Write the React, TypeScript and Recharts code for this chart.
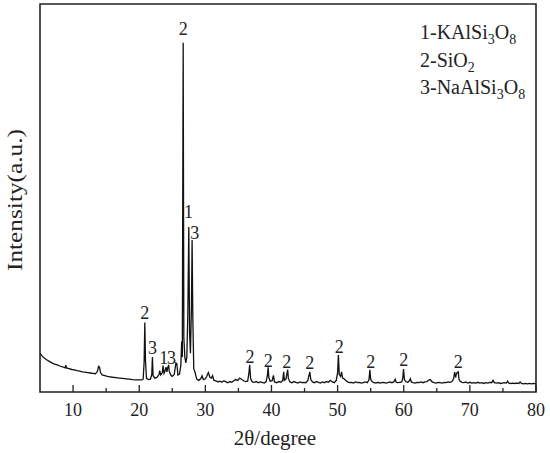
import { ComposedChart, Line, Scatter, XAxis, YAxis, ReferenceArea } from 'recharts';

// 2θ (degree), intensity (a.u., 0–100 scale)
const pattern: [number, number][] = [
  [5.0, 10.0], [5.3, 9.3], [5.6, 8.8], [6.0, 8.3], [6.4, 7.9], [6.8, 7.5], [7.2, 7.2], [7.6, 7.0],
  [8.0, 6.7], [8.4, 6.5], [8.8, 6.2], [8.9, 6.9], [9.0, 6.2], [9.4, 6.0], [9.8, 5.8], [10.2, 5.7],
  [10.6, 5.5], [11.0, 5.4], [11.4, 5.2], [11.8, 5.1], [12.2, 5.0], [12.6, 4.9], [13.0, 4.8], [13.4, 4.7],
  [13.7, 5.4], [13.85, 6.6], [14.0, 6.4], [14.15, 5.0], [14.4, 4.4], [14.8, 4.2], [15.2, 4.0], [15.6, 3.9],
  [16.0, 3.8], [16.5, 3.7], [17.0, 3.6], [17.5, 3.5], [18.0, 3.4], [18.5, 3.3], [19.0, 3.2], [19.5, 3.15],
  [20.0, 3.1], [20.4, 3.1], [20.6, 3.3], [20.75, 8.0], [20.85, 17.9], [20.95, 8.0], [21.1, 3.5], [21.4, 3.2],
  [21.7, 3.3], [21.9, 4.5], [22.0, 9.0], [22.1, 4.2], [22.4, 3.5], [22.7, 3.8], [23.0, 4.5], [23.1, 5.5],
  [23.25, 4.4], [23.5, 5.0], [23.6, 6.8], [23.75, 4.8], [23.9, 5.4], [24.05, 6.4], [24.2, 5.2], [24.3, 6.2],
  [24.45, 7.0], [24.55, 5.3], [24.8, 4.3], [25.0, 4.0], [25.3, 4.5], [25.55, 7.5], [25.7, 7.2], [25.85, 4.4],
  [26.1, 4.6], [26.3, 7.0], [26.42, 13.0], [26.52, 9.0], [26.65, 90.0], [26.75, 14.0], [26.9, 9.0], [27.05, 7.5],
  [27.2, 9.0], [27.35, 20.0], [27.5, 42.5], [27.62, 15.0], [27.75, 10.0], [27.9, 22.0], [28.0, 39.2], [28.1, 20.0],
  [28.25, 6.0], [28.45, 5.0], [28.7, 3.3], [29.0, 3.0], [29.3, 3.4], [29.5, 4.2], [29.7, 3.2], [30.0, 3.4],
  [30.2, 4.0], [30.45, 5.0], [30.7, 3.8], [30.9, 3.6], [31.1, 4.2], [31.3, 3.0], [31.6, 2.9], [31.9, 2.6],
  [32.2, 2.8], [32.5, 2.5], [32.8, 2.9], [33.1, 2.6], [33.4, 2.4], [33.7, 2.7], [34.0, 2.5], [34.3, 2.9],
  [34.6, 3.2], [34.9, 3.0], [35.2, 3.6], [35.5, 3.2], [35.8, 2.9], [36.1, 2.7], [36.4, 2.8], [36.6, 5.0],
  [36.7, 7.0], [36.85, 3.4], [37.1, 2.6], [37.4, 2.5], [37.7, 2.7], [38.0, 2.4], [38.3, 2.6], [38.6, 2.5],
  [38.9, 2.3], [39.2, 2.7], [39.4, 4.5], [39.5, 6.4], [39.6, 3.8], [39.8, 2.8], [40.1, 2.9], [40.3, 4.3],
  [40.45, 2.6], [40.8, 2.4], [41.1, 2.7], [41.4, 2.5], [41.7, 3.0], [41.85, 5.2], [41.95, 3.0], [42.2, 3.4],
  [42.45, 5.8], [42.55, 3.5], [42.8, 2.6], [43.1, 2.4], [43.4, 2.7], [43.7, 2.5], [44.0, 2.3], [44.3, 2.6],
  [44.6, 2.4], [44.9, 2.5], [45.2, 2.4], [45.5, 3.0], [45.8, 5.2], [45.95, 3.2], [46.2, 2.6], [46.5, 2.4],
  [46.8, 2.7], [47.1, 2.5], [47.4, 2.3], [47.7, 2.6], [48.0, 2.4], [48.3, 2.7], [48.6, 2.5], [48.9, 3.0],
  [49.2, 2.6], [49.5, 2.4], [49.8, 3.0], [50.0, 5.0], [50.12, 9.5], [50.25, 4.5], [50.45, 4.0], [50.6, 5.2],
  [50.75, 3.6], [51.0, 3.4], [51.2, 3.0], [51.5, 2.6], [51.8, 2.4], [52.1, 2.5], [52.4, 2.3], [52.7, 2.6],
  [53.0, 2.4], [53.3, 2.5], [53.6, 2.3], [53.9, 2.4], [54.2, 2.6], [54.5, 2.4], [54.75, 3.2], [54.88, 5.7],
  [55.0, 3.3], [55.2, 2.7], [55.5, 2.4], [55.8, 2.3], [56.1, 2.5], [56.4, 2.3], [56.7, 2.4], [57.0, 2.5],
  [57.3, 2.3], [57.6, 2.4], [57.9, 2.6], [58.2, 2.4], [58.5, 2.6], [58.7, 3.3], [58.85, 2.5], [59.1, 2.4],
  [59.4, 2.5], [59.7, 2.6], [59.85, 3.5], [59.97, 5.9], [60.1, 3.2], [60.3, 2.7], [60.6, 2.5], [60.85, 2.9],
  [61.0, 3.4], [61.15, 2.6], [61.4, 2.4], [61.7, 2.3], [62.0, 2.5], [62.3, 2.4], [62.6, 2.6], [62.9, 2.4],
  [63.2, 2.6], [63.5, 2.7], [63.8, 3.1], [64.0, 3.2], [64.3, 2.6], [64.6, 2.4], [64.9, 2.3], [65.2, 2.5],
  [65.5, 2.4], [65.8, 2.3], [66.1, 2.5], [66.4, 2.4], [66.7, 2.6], [67.0, 2.5], [67.3, 2.7], [67.55, 3.4],
  [67.7, 5.1], [67.85, 3.8], [67.95, 4.6], [68.1, 5.1], [68.25, 5.2], [68.35, 3.3], [68.5, 2.8], [68.8, 2.5],
  [69.1, 2.4], [69.4, 2.6], [69.7, 2.3], [70.0, 2.5], [70.3, 2.3], [70.6, 2.4], [70.9, 2.3], [71.2, 2.5],
  [71.5, 2.3], [71.8, 2.4], [72.1, 2.2], [72.4, 2.4], [72.7, 2.3], [73.0, 2.5], [73.3, 2.4], [73.5, 3.0],
  [73.7, 2.4], [74.0, 2.3], [74.3, 2.4], [74.6, 2.2], [74.9, 2.3], [75.2, 2.4], [75.5, 2.3], [75.7, 2.8],
  [75.9, 2.3], [76.2, 2.2], [76.5, 2.3], [76.8, 2.2], [77.1, 2.3], [77.4, 2.2], [77.6, 2.6], [77.8, 2.2],
  [78.1, 2.1], [78.4, 2.2], [78.7, 2.1], [79.0, 2.2], [79.3, 2.1], [79.6, 2.2], [80.0, 2.1],
];

// phase markers above the peaks: [2θ, height, phase number]
const peakMarks: [number, number, string][] = [
  [20.85, 20.4, '2'], [22.0, 11.3, '3'], [23.7, 8.8, '1'], [24.9, 8.8, '3'],
  [26.65, 93.5, '2'], [27.45, 46.5, '1'], [28.4, 41.0, '3'],
  [36.75, 9.1, '2'], [39.5, 8.1, '2'], [42.3, 7.8, '2'], [45.8, 7.4, '2'],
  [50.25, 11.7, '2'], [55.0, 7.65, '2'], [60.0, 8.25, '2'], [68.25, 7.65, '2'],
];

const xTicks = [10, 15, 20, 25, 30, 35, 40, 45, 50, 55, 60, 65, 70, 75, 80];

const lineData = pattern.map(([x, y]) => ({ x, y }));
const markData = peakMarks.map(([x, y, label]) => ({ x, y, label }));

const serif = "'Liberation Serif', Tinos, 'Times New Roman', 'DejaVu Serif', serif";
const ink = '#222';
const textStyle = { fontFamily: serif };

function BottomTick(props: any) {
  const { x, y, payload } = props;
  const major = payload.value % 10 === 0;
  return (
    <g>
      <line x1={x} x2={x} y1={y} y2={y - (major ? 7 : 4)} stroke={ink} strokeWidth={1.3} />
      {major && (
        <text x={x} y={y + 18} textAnchor="middle" dominantBaseline="central"
          style={textStyle} fontSize={18} fill={ink}>
          {payload.value}
        </text>
      )}
    </g>
  );
}

function MarkText(props: any) {
  const { cx, cy, payload } = props;
  return (
    <text x={cx} y={cy} textAnchor="middle" dominantBaseline="central"
      style={textStyle} fontSize={18} fill={ink}>
      {payload.label}
    </text>
  );
}

export default function App() {
  return (
    <div style={{ position: 'absolute', left: 0, top: 0, width: 550, height: 453, background: '#fff' }}>
      <ComposedChart width={550} height={453} margin={{ top: 4, right: 14, left: 40, bottom: 31 }}>
        <XAxis
          type="number"
          dataKey="x"
          domain={[5, 80]}
          ticks={xTicks}
          allowDataOverflow
          height={30}
          tickSize={0}
          tickMargin={0}
          axisLine={false}
          tick={<BottomTick />}
        />
        <YAxis type="number" dataKey="y" domain={[0, 100]} allowDataOverflow hide />
        <ReferenceArea x1={5} x2={80} y1={0} y2={100} fill="none" fillOpacity={0}
          stroke={ink} strokeWidth={1.6} />
        <Line
          data={lineData}
          dataKey="y"
          type="linear"
          stroke="#111"
          strokeWidth={1.3}
          dot={false}
          activeDot={false}
          isAnimationActive={false}
        />
        <Scatter data={markData} dataKey="y" shape={<MarkText />} isAnimationActive={false} />
      </ComposedChart>
      <svg width={550} height={453} style={{ position: 'absolute', left: 0, top: 0, pointerEvents: 'none' }}>
        <text x={15} y={200} transform="rotate(-90 15 200)" textAnchor="middle" dominantBaseline="central"
          style={textStyle} fontSize={21} fill={ink} textLength={142} lengthAdjust="spacingAndGlyphs">
          Intensity(a.u.)
        </text>
        <text x={275} y={438} textAnchor="middle" dominantBaseline="central"
          style={textStyle} fontSize={21} fill={ink}>
          2θ/degree
        </text>
        <g style={textStyle} fontSize={20} fill={ink}>
          <text x={420} y={39}>
            1-KAlSi<tspan dy={5} fontSize={14}>3</tspan><tspan dy={-5}>O</tspan><tspan dy={5} fontSize={14}>8</tspan>
          </text>
          <text x={420} y={67}>
            2-SiO<tspan dy={5} fontSize={14}>2</tspan>
          </text>
          <text x={420} y={94}>
            3-NaAlSi<tspan dy={5} fontSize={14}>3</tspan><tspan dy={-5}>O</tspan><tspan dy={5} fontSize={14}>8</tspan>
          </text>
        </g>
      </svg>
    </div>
  );
}
